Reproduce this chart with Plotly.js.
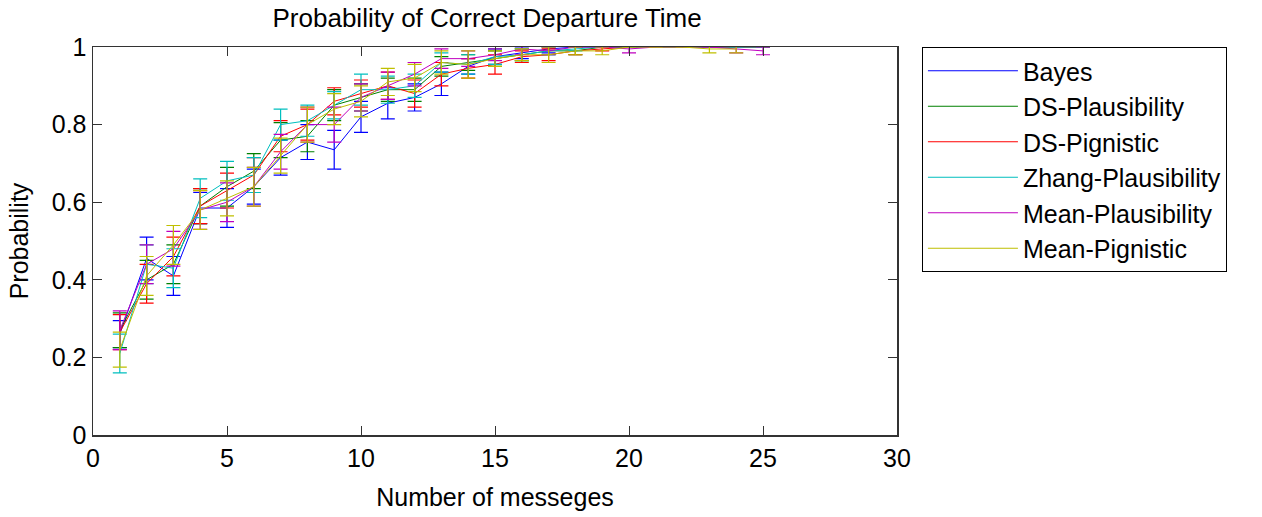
<!DOCTYPE html>
<html><head><meta charset="utf-8">
<script src="https://cdn.plot.ly/plotly-3.0.1.min.js"></script>
<style>html,body{margin:0;padding:0;background:#fff}#chart{width:1262px;height:517px}</style>
</head><body><div id="chart"></div>
<script>
var seriesNames = ["Bayes","DS-Plausibility","DS-Pignistic","Zhang-Plausibility","Mean-Plausibility","Mean-Pignistic"];
var seriesColors = ["#0000FF","#008000","#FF0000","#00BFBF","#BF00BF","#BFBF00"];
var messages = [1,2,3,4,5,6,7,8,9,10,11,12,13,14,15,16,17,18,19,20,21,22,23,24,25];

var bayes    = [0.26,0.455,0.41,0.585,0.585,0.64,0.715,0.755,0.735,0.82,0.855,0.87,0.905,0.95,0.975,0.985,0.995,1,1,1,1,1,1,1,1];
var bayesErr = [0.035,0.055,0.05,0.04,0.05,0.045,0.045,0.045,0.05,0.04,0.04,0.035,0.03,0.02,0.02,0.015,0.01,0,0,0,0,0,0,0,0];
var dsPl     = [0.27,0.40,0.44,0.59,0.64,0.68,0.76,0.77,0.85,0.87,0.89,0.89,0.95,0.96,0.97,0.98,0.99,0.99,1,1,1,1,1,1,1];
var dsPlErr  = [0.045,0.05,0.05,0.045,0.05,0.045,0.045,0.04,0.04,0.035,0.03,0.03,0.025,0.02,0.02,0.015,0.01,0.01,0,0,0,0,0,0,0];
var dsPig    = [0.265,0.39,0.46,0.59,0.63,0.67,0.77,0.80,0.86,0.88,0.90,0.88,0.93,0.945,0.955,0.975,0.98,0.99,0.995,1,1,1,1,1,1];
var dsPigErr = [0.045,0.05,0.05,0.045,0.045,0.045,0.04,0.04,0.035,0.035,0.035,0.035,0.03,0.025,0.025,0.015,0.015,0.01,0.005,0,0,0,0,0,0];
var zhPl     = [0.21,0.44,0.43,0.61,0.655,0.67,0.80,0.81,0.85,0.89,0.89,0.90,0.96,0.955,0.975,0.98,0.99,0.995,1,1,1,1,1,1,1];
var zhPlErr  = [0.05,0.05,0.05,0.05,0.05,0.045,0.04,0.04,0.035,0.04,0.035,0.03,0.025,0.025,0.02,0.015,0.01,0.005,0,0,0,0,0,0,0];
var mnPl     = [0.27,0.44,0.48,0.58,0.60,0.64,0.73,0.80,0.80,0.87,0.90,0.93,0.97,0.97,0.98,0.995,0.99,1,1,0.995,1,1,1,0.995,0.99];
var mnPlErr  = [0.05,0.05,0.045,0.05,0.05,0.05,0.045,0.045,0.045,0.035,0.035,0.03,0.025,0.02,0.015,0.015,0.01,0,0,0.01,0,0,0,0.01,0.01];
var mnPig    = [0.22,0.41,0.49,0.58,0.61,0.64,0.72,0.80,0.84,0.86,0.91,0.92,0.96,0.955,0.97,0.98,0.98,0.99,0.99,1,1,1,0.995,0.995];
var mnPigErr = [0.045,0.05,0.05,0.05,0.045,0.05,0.045,0.045,0.04,0.04,0.035,0.035,0.03,0.035,0.02,0.015,0.02,0.01,0.01,0,0,0,0.01,0.01];

var xTicks = [0,5,10,15,20,25,30];
var yTicks = [0,0.2,0.4,0.6,0.8,1];
var yTickText = ["0","0.2","0.4","0.6","0.8","1"];

var ys = [bayes,dsPl,dsPig,zhPl,mnPl,mnPig];
var es = [bayesErr,dsPlErr,dsPigErr,zhPlErr,mnPlErr,mnPigErr];
var traces = ys.map(function(y,i){
  return {
    x: messages.slice(0,y.length), y: y, name: seriesNames[i], type:'scatter', mode:'lines',
    line:{color:seriesColors[i], width:1},
    error_y:{type:'data', array:es[i], visible:true, color:seriesColors[i], thickness:1.2, width:7}
  };
});
var F = "Liberation Sans, Arial, Helvetica, sans-serif";
var layout = {
  width:1262, height:517,
  margin:{l:93, r:365, t:47, b:82},
  paper_bgcolor:'#fff', plot_bgcolor:'#fff',
  font:{family:F, size:25, color:'#000'},
  title:{text:'Probability of Correct Departure Time', font:{family:F,size:26,color:'#000'}, x:0.386, xanchor:'center', y:0.965, yanchor:'middle'},
  xaxis:{range:[0,30], tickvals:xTicks, ticks:'inside', ticklen:9, tickcolor:'#333', showline:true, linecolor:'#333', linewidth:1.5, mirror:'ticks', showgrid:false, zeroline:false,
    tickfont:{size:25}, title:{text:'Number of messeges', font:{size:25}, standoff:18}},
  yaxis:{range:[0,1], tickvals:yTicks, ticktext:yTickText, ticks:'inside', ticklen:9, tickcolor:'#333', showline:true, linecolor:'#333', linewidth:1.5, mirror:'ticks', showgrid:false, zeroline:false,
    tickfont:{size:25}, title:{text:'Probability', font:{size:25}, standoff:16}},
  showlegend:true,
  legend:{x:1.031, xanchor:'left', y:1, yanchor:'top', bordercolor:'#000', borderwidth:1, bgcolor:'#fff',
    font:{size:25}, itemwidth:90, tracegroupgap:0}
};
Plotly.newPlot('chart', traces, layout, {displayModeBar:false, staticPlot:true});
</script></body></html>
